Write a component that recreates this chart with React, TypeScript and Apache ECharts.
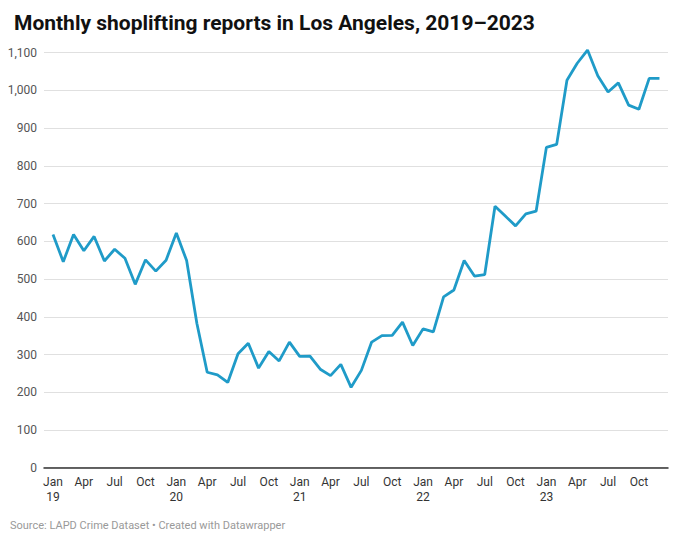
import React, { useEffect, useRef } from "react";
import * as echarts from "echarts";

const titleText = "Monthly shoplifting reports in Los Angeles, 2019–2023";
const sourceText = "Source: LAPD Crime Dataset • Created with Datawrapper";

// Monthly values Jan 2019 .. Dec 2023
const values2019 = [618, 546, 618, 575, 613, 548, 579, 555, 486, 551, 521, 550];
const values2020 = [622, 549, 382, 253, 246, 226, 302, 330, 264, 308, 283, 333];
const values2021 = [295, 296, 261, 244, 274, 213, 258, 333, 350, 351, 386, 324];
const values2022 = [368, 360, 453, 471, 549, 508, 512, 693, 667, 641, 673, 680];
const values2023 = [849, 857, 1027, 1072, 1107, 1039, 996, 1020, 961, 950, 1032, 1032];
const values = [...values2019, ...values2020, ...values2021, ...values2022, ...values2023];

const tickPositions = [0, 3, 6, 9, 12, 15, 18, 21, 24, 27, 30, 33, 36, 39, 42, 45, 48, 51, 54, 57];
const tickLabels = [
  "Jan\n19", "Apr", "Jul", "Oct",
  "Jan\n20", "Apr", "Jul", "Oct",
  "Jan\n21", "Apr", "Jul", "Oct",
  "Jan\n22", "Apr", "Jul", "Oct",
  "Jan\n23", "Apr", "Jul", "Oct",
];

export default function App() {
  const ref = useRef<HTMLDivElement>(null);
  useEffect(() => {
    if (!ref.current) return;
    const chart = echarts.init(ref.current, null, { renderer: "svg" });
    chart.setOption({
      animation: false,
      backgroundColor: "#ffffff",
      textStyle: { fontFamily: "Roboto" },
      title: {
        text: titleText,
        left: 9,
        top: 7,
        textStyle: { fontFamily: "Roboto", fontSize: 21, fontWeight: "bold", color: "#111111" },
      },
      graphic: [
        {
          type: "text",
          left: 10,
          top: 520,
          style: { text: sourceText, fontFamily: "Roboto", fontSize: 11, fill: "#999999" },
        },
      ],
      grid: { left: 44, right: 12, top: 52.7, bottom: 76.3, containLabel: false },
      xAxis: {
        type: "value",
        min: -0.875,
        max: 59.83,
        splitLine: { show: false },
        axisTick: { show: false },
        axisLine: { show: true, lineStyle: { color: "#333333", width: 1.5 } },
        axisLabel: {
          customValues: tickPositions,
          formatter: (v: number) => {
            const idx = tickPositions.indexOf(Math.round(v));
            return idx >= 0 ? tickLabels[idx] : "";
          },
          color: "#333333",
          fontSize: 12,
          lineHeight: 15,
          margin: 7,
        },
      },
      yAxis: {
        type: "value",
        min: 0,
        max: 1100,
        interval: 100,
        axisLine: { show: false },
        axisTick: { show: false },
        splitLine: { lineStyle: { color: "#e0e0e0", width: 1 } },
        axisLabel: {
          color: "#555555",
          fontSize: 12,
          margin: 7,
          formatter: (v: number) => v.toLocaleString("en-US"),
        },
      },
      series: [
        {
          type: "line",
          clip: false,
          data: values.map((v, i) => [i, v]),
          symbol: "none",
          lineStyle: { color: "#1f9bc8", width: 2.8 },
          itemStyle: { color: "#1f9bc8" },
        },
      ],
    });
    return () => chart.dispose();
  }, []);
  return <div ref={ref} style={{ position: "fixed", left: 0, top: 0, width: 680, height: 544 }} />;
}
